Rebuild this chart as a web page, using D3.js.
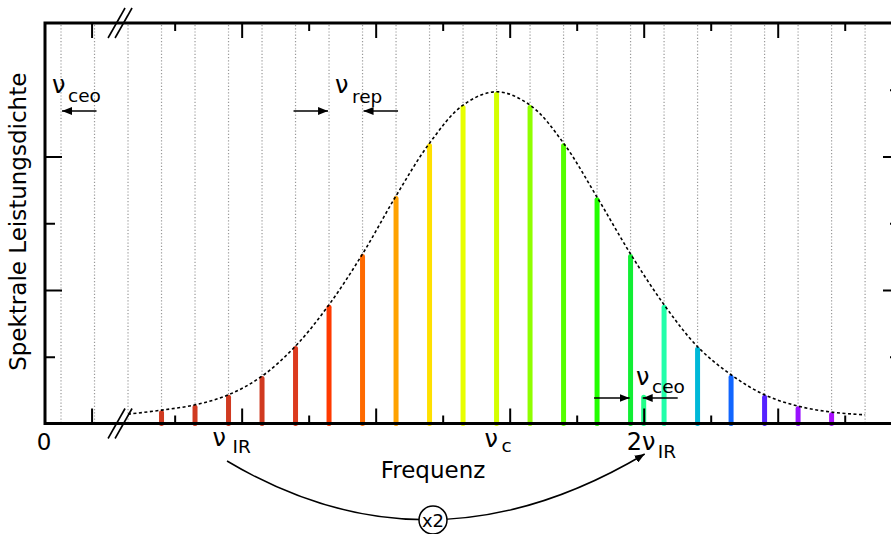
<!doctype html>
<html lang="de">
<head>
    <meta charset="UTF-8">
    <title>Frequenzkamm</title>
    <style>
        body { margin: 0; background: #fff; }
        #chart { font-family: "DejaVu Sans", sans-serif; }
        #chart .grid { stroke: #999; stroke-width: 1.2; stroke-dasharray: 1.2,2; }
        #chart .frame { fill: none; stroke: #000; stroke-width: 3; }
        #chart .tick line { stroke: #000; stroke-width: 2; }
        #chart .envelope { fill: none; stroke: #000; stroke-width: 1.6; stroke-dasharray: 3,2.5; }
        #chart .arrow { stroke: #000; stroke-width: 1.5; fill: none; }
    </style>
</head>
<body>
<svg id="chart" width="891" height="534"></svg>

<script src="https://cdn.jsdelivr.net/npm/d3@7/dist/d3.min.js"></script>
<script>
    // Kammlinien: Modenindex n, Leistung (willk. Einheiten), Farbe
    var modeIndex = [3, 4, 5, 6, 7, 8, 9, 10, 11, 12, 13, 14, 15, 16, 17, 18, 19, 20, 21, 22, 23]
    var modePower = [0.20, 0.28, 0.43, 0.71, 1.16, 1.78, 2.54, 3.41, 4.20, 4.77, 4.97,
                     4.77, 4.20, 3.39, 2.54, 1.78, 1.15, 0.73, 0.43, 0.26, 0.17]
    var modeColor = ['#d03a20', '#d03a20', '#d03a20', '#d03a20', '#dc3a1e', '#ff3a00', '#ff6a00',
                     '#ffa200', '#ffe000', '#e8ff00', '#d4ff00', '#90ff00', '#55ff00', '#22ff00',
                     '#11ee33', '#22ffaa', '#00b8d8', '#1166ff', '#5522ff', '#9911ff', '#aa11ff']

    // Einhuellende (gestrichelt)
    var envIndex = [2, 3, 4, 5, 6, 7, 8, 9, 10, 11, 12, 13, 14, 15, 16, 17, 18, 19, 20, 21, 22, 23, 24]
    var envPower = [0.14, 0.20, 0.28, 0.43, 0.71, 1.16, 1.78, 2.54, 3.41, 4.20, 4.77, 4.97,
                    4.77, 4.20, 3.39, 2.54, 1.78, 1.15, 0.73, 0.43, 0.26, 0.17, 0.13]

    // verdoppelte Linie 2 nu_IR
    var shgPos = 17.87, shgPower = 0.43, shgColor = '#22ff88'

    var fceo = 0.478     // Offsetfrequenz in Einheiten von nu_rep
    var gridIndex = [0, 1, 2, 3, 4, 5, 6, 7, 8, 9, 10, 11, 12, 13, 14, 15, 16, 17, 18, 19, 20, 21, 22, 23, 24]

    var xMajor = [1.39, 5.87, 9.87, 13.87, 17.87, 21.87]
    var xMinor = [3.87, 7.87, 11.87, 15.87, 19.87, 23.87]
    var yLeftMajor = [2, 4], yLeftMinor = [1, 3]
    var yRightMajor = [2, 4], yRightMinor = [1, 3, 5]

    var pLeft = 45, pRight = 900, pTop = 23, pBottom = 423.5

    var x = d3.scaleLinear().domain([0, 25.52]).range([pLeft, pRight])
    var y = d3.scaleLinear().domain([0, 6]).range([pBottom, pTop])

    var svg = d3.select('#chart')

    var defs = svg.append('defs')
    defs.append('marker')
        .attr('id', 'head')
        .attr('markerUnits', 'userSpaceOnUse')
        .attr('viewBox', '0 0 10 8')
        .attr('refX', 10).attr('refY', 4)
        .attr('markerWidth', 10).attr('markerHeight', 8)
        .attr('orient', 'auto')
        .append('path').attr('d', 'M0,0 L10,4 L0,8 Z').attr('fill', '#000')

    // Gitter
    svg.append('g').selectAll('line')
        .data(gridIndex)
        .enter().append('line')
        .attr('class', 'grid')
        .attr('x1', function(d) { return x(fceo + d) })
        .attr('x2', function(d) { return x(fceo + d) })
        .attr('y1', pTop + 2).attr('y2', pBottom)

    // Kammlinien
    svg.append('g').selectAll('line')
        .data(modeIndex)
        .enter().append('line')
        .attr('x1', function(d) { return x(fceo + d) })
        .attr('x2', function(d) { return x(fceo + d) })
        .attr('y1', y(0))
        .attr('y2', function(d, i) { return y(modePower[i]) + 2.5 })
        .attr('stroke', function(d, i) { return modeColor[i] })
        .attr('stroke-width', 5)
        .attr('stroke-linecap', 'round')

    svg.append('line')
        .attr('x1', x(shgPos)).attr('x2', x(shgPos))
        .attr('y1', y(0)).attr('y2', y(shgPower) + 2.5)
        .attr('stroke', shgColor).attr('stroke-width', 5).attr('stroke-linecap', 'round')

    // Einhuellende
    var env = d3.line()
        .x(function(d) { return x(fceo + d) })
        .y(function(d, i) { return y(envPower[i]) })
        .curve(d3.curveCatmullRom.alpha(0.5))
    svg.append('path').attr('class', 'envelope').attr('d', env(envIndex))

    // Achsen-Ticks
    function xTicks(vals, len) {
        svg.append('g').attr('transform', 'translate(0,' + pBottom + ')')
            .call(d3.axisBottom(x).tickValues(vals).tickSize(-len).tickFormat(''))
            .select('.domain').remove()
        svg.append('g').attr('transform', 'translate(0,' + pTop + ')')
            .call(d3.axisTop(x).tickValues(vals).tickSize(-len).tickFormat(''))
            .select('.domain').remove()
    }
    xTicks(xMajor, 15)
    xTicks(xMinor, 8)

    function yTicks(vals, len, side) {
        var ax = side === 'left' ? d3.axisLeft(y) : d3.axisRight(y)
        svg.append('g').attr('transform', 'translate(' + (side === 'left' ? pLeft : pRight) + ',0)')
            .call(ax.tickValues(vals).tickSize(-len).tickFormat(''))
            .select('.domain').remove()
    }
    yTicks(yLeftMajor, 17, 'left')
    yTicks(yLeftMinor, 10, 'left')
    yTicks(yRightMajor, 17, 'right')
    yTicks(yRightMinor, 10, 'right')

    svg.append('rect').attr('class', 'frame')
        .attr('x', pLeft).attr('y', pTop)
        .attr('width', pRight - pLeft).attr('height', pBottom - pTop)

    // Achsenbruch
    var brk = x(2.24)
    ;[pTop, pBottom].forEach(function(yy) {
        [-3.5, 3.5].forEach(function(dx) {
            svg.append('line')
                .attr('x1', brk + dx - 8.5).attr('y1', yy + 15)
                .attr('x2', brk + dx + 8.5).attr('y2', yy - 15)
                .attr('stroke', '#000').attr('stroke-width', 1.6)
        })
    })

    // Beschriftung
    function label(mx, my, main, sx, sy, sub, size) {
        var t = svg.append('text').attr('fill', '#000')
        t.append('tspan').attr('x', mx).attr('y', my).attr('font-size', size || 24).text(main)
        t.append('tspan').attr('x', sx).attr('y', sy).attr('font-size', 18.5).text(sub)
    }

    svg.append('text')
        .attr('transform', 'translate(26,' + (y(3) - 1.5) + ') rotate(-90)')
        .attr('text-anchor', 'middle').attr('font-size', 23)
        .text('Spektrale Leistungsdichte')

    svg.append('text')
        .attr('x', 433).attr('y', 478)
        .attr('text-anchor', 'middle').attr('font-size', 23)
        .text('Frequenz')

    svg.append('text')
        .attr('x', x(0) - 1).attr('y', 450)
        .attr('text-anchor', 'middle').attr('font-size', 23)
        .text('0')

    var xIR = x(fceo + 5), xC = x(fceo + 13), x2IR = x(shgPos)
    label(xIR - 16, 446, '\u03bd', xIR + 4, 453, 'IR')
    label(xC - 12, 447, '\u03bd', xC + 5, 452, 'c')
    label(x2IR - 17, 450, '2\u03bd', x2IR + 14, 458, 'IR')
    label(52, 93, '\u03bd', 68, 102, 'ceo')
    label(335, 93, '\u03bd', 352, 103, 'rep')
    label(636, 385, '\u03bd', 652, 393, 'ceo')

    // Pfeile
    function arrow(x1, x2, yy) {
        svg.append('line').attr('class', 'arrow')
            .attr('x1', x1).attr('x2', x2).attr('y1', yy).attr('y2', yy)
            .attr('marker-end', 'url(#head)')
    }
    arrow(x(fceo + 1) + 2, x(fceo) + 1, 111)
    arrow(x(fceo + 7) - 2, x(fceo + 8) - 1, 111)
    arrow(x(fceo + 10) + 2, x(fceo + 9) + 1, 111)
    arrow(x(fceo + 16) - 3, x(fceo + 17) - 1, 398)
    arrow(x2IR + 34, x2IR - 1, 398)

    // Verdopplung
    svg.append('path').attr('class', 'arrow')
        .attr('d', 'M' + (xIR - 1.5) + ',461 Q430,582 ' + (x2IR + 1) + ',454')
        .attr('marker-end', 'url(#head)')
    svg.append('circle')
        .attr('cx', 433).attr('cy', 520).attr('r', 14)
        .attr('fill', '#fff').attr('stroke', '#000').attr('stroke-width', 1.5)
    svg.append('text')
        .attr('x', 433).attr('y', 527)
        .attr('text-anchor', 'middle').attr('font-size', 18)
        .text('x2')
</script>
</body>
</html>
